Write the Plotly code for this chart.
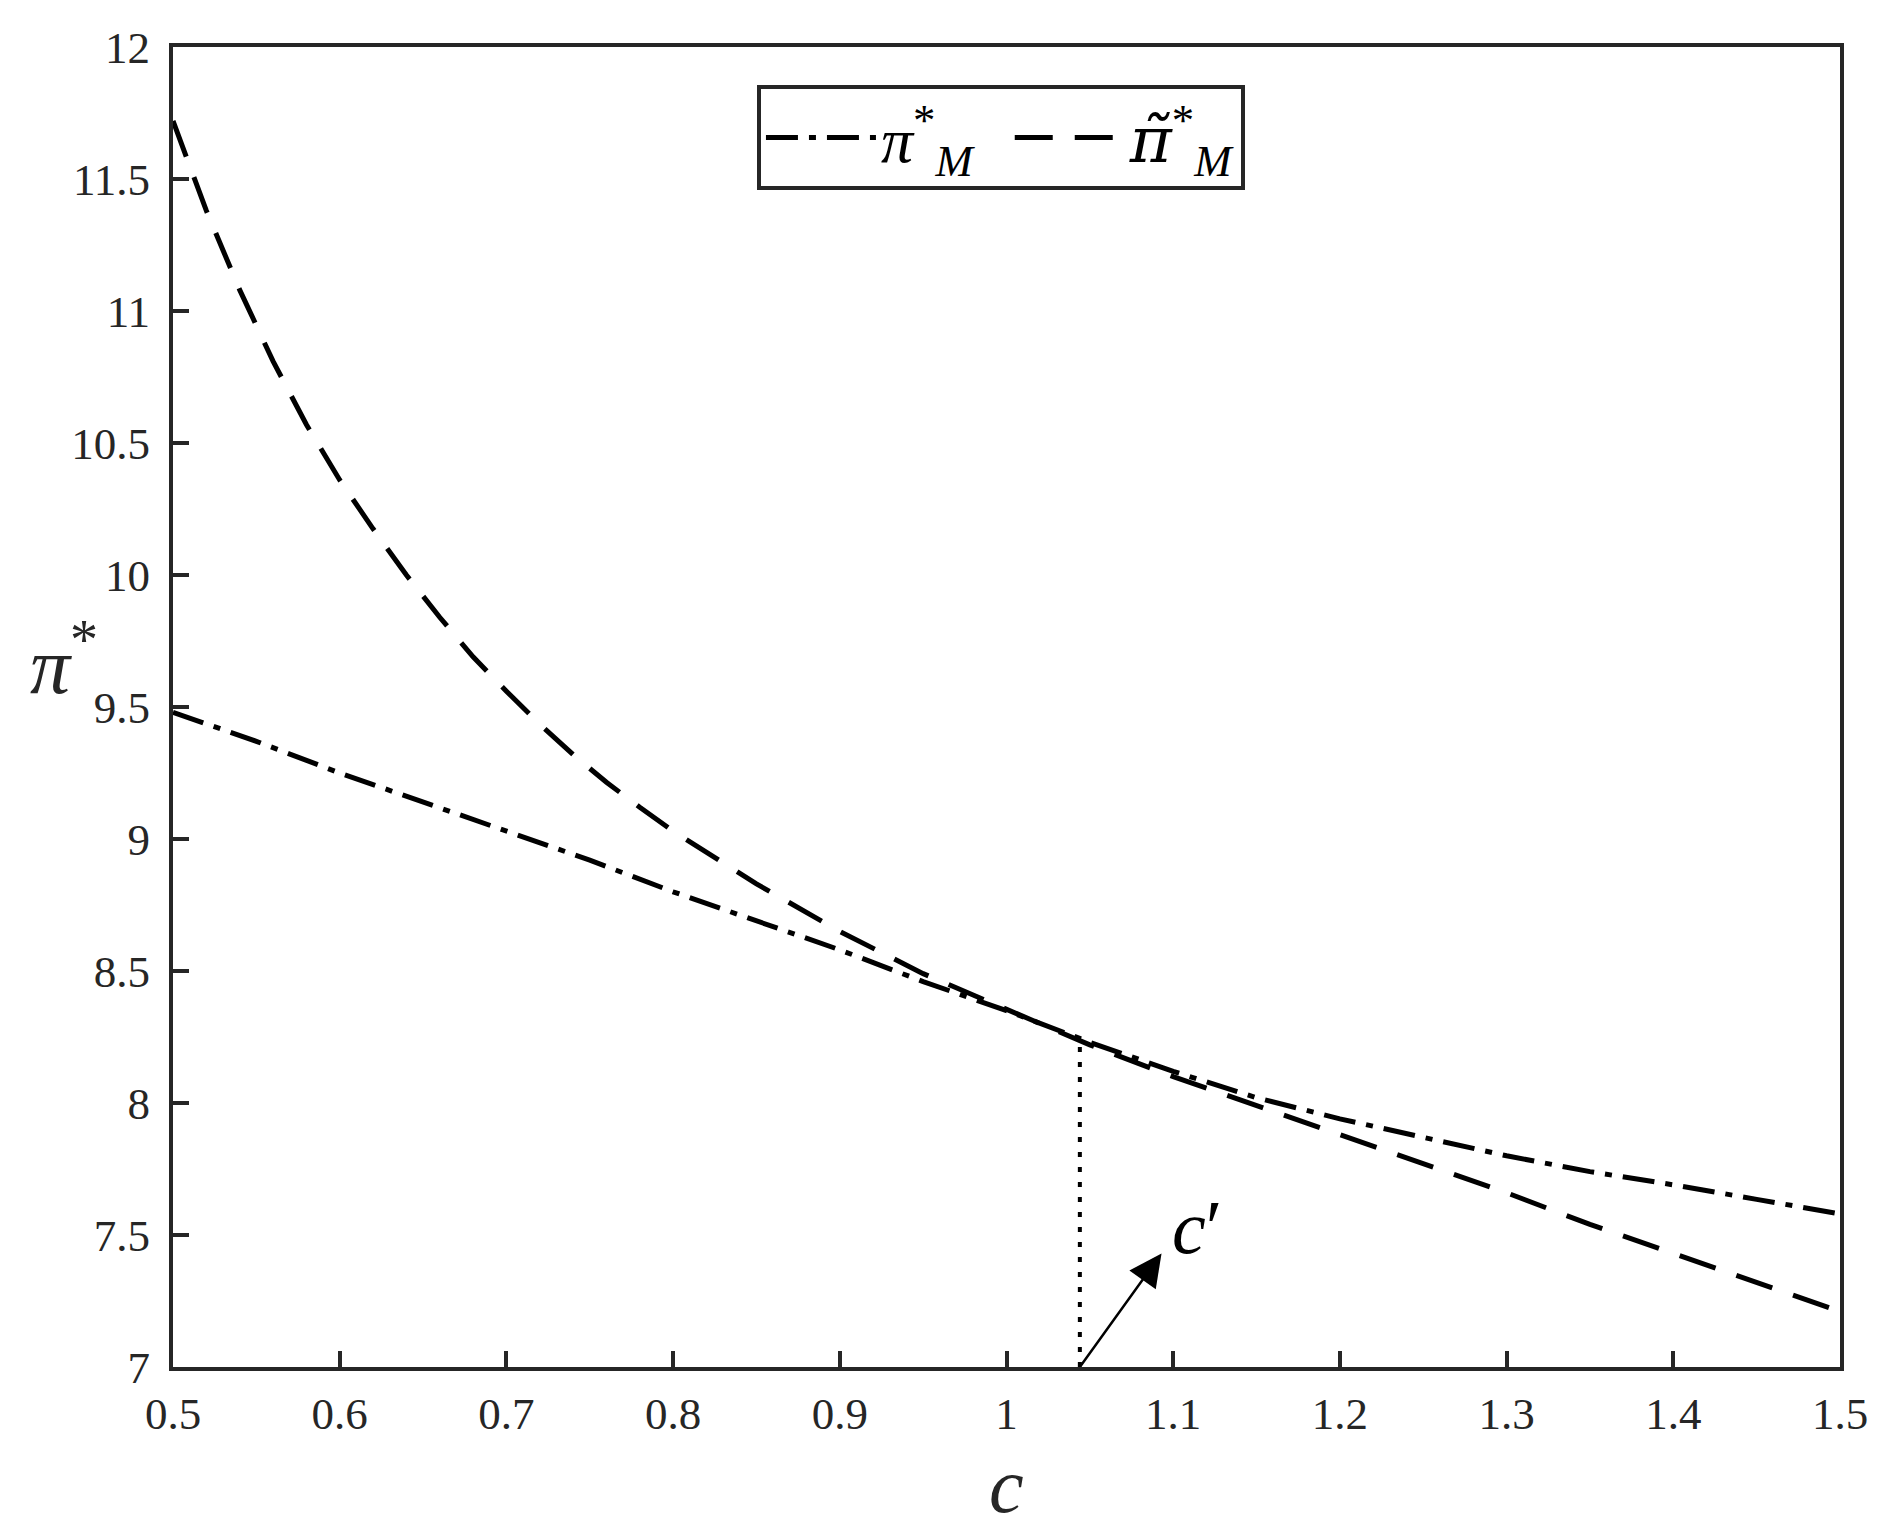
"""Profit curves pi*_M and pi~*_M against cost c, with the switch point c'."""

import plotly.graph_objects as go

# dash-dot curve: pi*_M
c_main = [0.50, 0.55, 0.60, 0.65, 0.70, 0.75, 0.80, 0.85, 0.90, 0.95, 1.00,
          1.05, 1.10, 1.15, 1.20, 1.25, 1.30, 1.35, 1.40, 1.45, 1.50]
pi_main = [9.48, 9.37, 9.25, 9.14, 9.03, 8.92, 8.80, 8.69, 8.58, 8.46, 8.35,
           8.23, 8.12, 8.02, 7.94, 7.87, 7.80, 7.74, 7.69, 7.635, 7.58]

# dashed curve: pi~*_M
c_tilde = [0.50, 0.52, 0.54, 0.56, 0.58, 0.60, 0.62, 0.64, 0.66, 0.68, 0.70,
           0.72, 0.74, 0.76, 0.78, 0.80, 0.85, 0.90, 0.95, 1.00, 1.05, 1.10,
           1.15, 1.20, 1.25, 1.30, 1.35, 1.40, 1.45, 1.50]
pi_tilde = [11.72, 11.38, 11.08, 10.81, 10.57, 10.36, 10.175, 10.00, 9.84,
            9.69, 9.56, 9.435, 9.32, 9.215, 9.12, 9.03, 8.83, 8.65, 8.49,
            8.355, 8.22, 8.10, 7.99, 7.88, 7.77, 7.66, 7.54, 7.43, 7.32, 7.21]

# threshold c' and the profit level where the curves meet
C_PRIME = 1.044
PI_AT_C_PRIME = 8.235
ARROW_HEAD = (1.093, 7.43)
LABEL_POS = (1.114, 7.53)

x_ticks = [0.5, 0.6, 0.7, 0.8, 0.9, 1.0, 1.1, 1.2, 1.3, 1.4, 1.5]
x_tick_text = ["0.5", "0.6", "0.7", "0.8", "0.9", "1", "1.1", "1.2", "1.3", "1.4", "1.5"]
y_ticks = [7, 7.5, 8, 8.5, 9, 9.5, 10, 10.5, 11, 11.5, 12]
y_tick_text = ["7", "7.5", "8", "8.5", "9", "9.5", "10", "10.5", "11", "11.5", "12"]

FONT = "Liberation Serif, Times New Roman, serif"
AXIS = "#262626"
TILDE_PI = "<span style='font-family:DejaVu Serif;font-style:italic'>π̃</span>"

fig = go.Figure()

fig.add_trace(go.Scatter(
    x=c_main, y=pi_main, mode="lines",
    name="<i>π</i><sup>*</sup><sub><i>M</i></sub>\u2002",
    line=dict(color="black", width=5, dash="32px,11px,7px,11px"),
))
fig.add_trace(go.Scatter(
    x=c_tilde, y=pi_tilde, mode="lines",
    name=TILDE_PI + "<sup>*</sup><sub><i>M</i></sub>",
    line=dict(color="black", width=5, dash="38px,22px"),
))
# dotted drop line at c'
fig.add_trace(go.Scatter(
    x=[C_PRIME, C_PRIME], y=[7, PI_AT_C_PRIME], mode="lines",
    showlegend=False,
    line=dict(color="black", width=4, dash="5px,10px"),
))

axis_style = dict(
    showline=True, mirror=True, linecolor=AXIS, linewidth=4,
    ticks="inside", ticklen=16, tickwidth=4, tickcolor=AXIS,
    showgrid=False, zeroline=False,
    tickfont=dict(family=FONT, size=45, color=AXIS),
)

fig.update_xaxes(range=[0.5, 1.5], tickvals=x_ticks, ticktext=x_tick_text,
                 ticklabelstandoff=4, **axis_style)
fig.update_yaxes(range=[7, 12], tickvals=y_ticks, ticktext=y_tick_text,
                 ticklabelstandoff=10, **axis_style)

fig.add_annotation(
    x=ARROW_HEAD[0], y=ARROW_HEAD[1], ax=C_PRIME, ay=7,
    xref="x", yref="y", axref="x", ayref="y",
    showarrow=True, arrowhead=2, arrowsize=2.6, arrowwidth=2.5,
    arrowcolor="black", text="",
)
fig.add_annotation(
    x=LABEL_POS[0], y=LABEL_POS[1], xref="x", yref="y",
    text="<i>c</i>′", showarrow=False,
    font=dict(family=FONT, size=76, color="black"),
)
fig.add_annotation(
    x=1.0, y=-0.124, xref="x", yref="paper",
    text="<i>c</i>", showarrow=False,
    font=dict(family=FONT, size=78, color=AXIS),
)
fig.add_annotation(
    x=-0.087, y=9.68, xref="paper", yref="y",
    text="<i>π</i><sup>*</sup>", showarrow=False,
    font=dict(family=FONT, size=80, color=AXIS),
)

fig.update_layout(
    width=1897, height=1535,
    margin=dict(l=165, r=65, t=39, b=176),
    paper_bgcolor="white", plot_bgcolor="white",
    font=dict(family=FONT, color="black"),
    showlegend=True,
    legend=dict(
        orientation="h", x=0.3503, y=0.971, xanchor="left", yanchor="top",
        bgcolor="white", bordercolor=AXIS, borderwidth=4,
        font=dict(family=FONT, size=64, color="black"),
        itemwidth=110, tracegroupgap=0,
    ),
)

fig.write_html("out.html")
